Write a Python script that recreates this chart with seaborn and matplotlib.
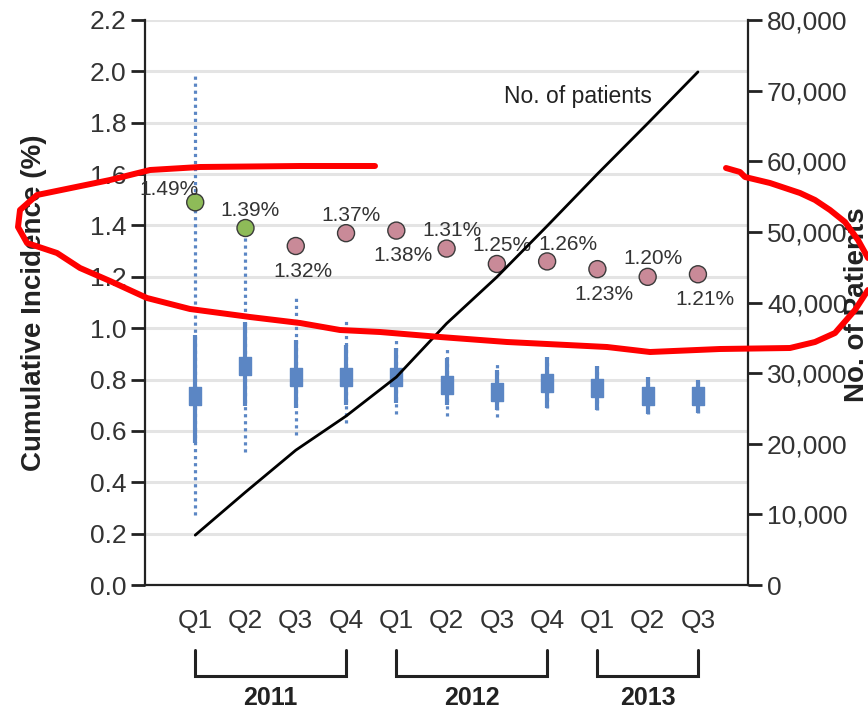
import numpy as np
import pandas as pd
import seaborn as sns
import matplotlib.pyplot as plt
from matplotlib import transforms
from matplotlib.lines import Line2D
from matplotlib.ticker import FuncFormatter

# ---- data ----
quarters = ['Q1', 'Q2', 'Q3', 'Q4', 'Q1', 'Q2', 'Q3', 'Q4', 'Q1', 'Q2', 'Q3']
years = ['2011', '2012', '2013']
year_first = [0, 4, 8]
year_last = [3, 7, 10]

incidence = [1.49, 1.39, 1.32, 1.37, 1.38, 1.31, 1.25, 1.26, 1.23, 1.20, 1.21]
dot_group = ['early', 'early'] + ['late'] * 9
label_side = ['left', 'above', 'below', 'above', 'below', 'above',
              'above', 'above-right', 'below', 'above', 'below']

box_mid = [0.735, 0.852, 0.809, 0.809, 0.810, 0.778, 0.751, 0.786, 0.766, 0.735, 0.735]
box_lo = [0.553, 0.697, 0.689, 0.700, 0.708, 0.700, 0.681, 0.689, 0.681, 0.665, 0.669]
box_hi = [0.973, 1.023, 0.953, 0.934, 0.922, 0.883, 0.837, 0.887, 0.852, 0.810, 0.800]
dot_lo = [0.272, 0.518, 0.584, 0.630, 0.665, 0.660, 0.654, 0.689, 0.681, 0.665, 0.669]
dot_hi = [1.985, 1.360, 1.128, 1.035, 0.953, 0.918, 0.868, 0.887, 0.852, 0.810, 0.800]

patients = [7080, 13170, 19100, 23930, 29450, 37030, 43610, 50830, 58190, 65350, 72640]

# hand-drawn red markup on top of the chart (figure pixels)
scribble_loop = [(375, 166), (300, 166), (200, 167), (150, 170), (110, 180), (37, 195),
                 (20, 210), (18, 227), (27, 243), (57, 253), (80, 268), (110, 281),
                 (147, 298), (190, 309), (250, 317), (300, 323), (340, 330),
                 (380, 332), (440, 337), (507, 342), (607, 347), (650, 352), (720, 349),
                 (790, 348), (815, 342), (835, 333), (855, 310), (868, 290)]
scribble_arc = [(726, 168), (740, 172), (745, 177), (770, 183), (800, 193), (815, 200),
                (830, 210), (845, 222), (858, 240), (868, 258)]

df = pd.DataFrame({'x': range(len(quarters)), 'inc': incidence, 'group': dot_group,
                   'patients': patients})

blue = '#5b86c4'
sans = ['Liberation Sans', 'DejaVu Sans']

sns.set_style('white')
plt.rcParams['font.family'] = sans

fig, ax = plt.subplots(figsize=(8.68, 7.11), dpi=100)
fig.subplots_adjust(left=0.167, right=0.862, top=0.972, bottom=0.177)

# grid
ax.set_axisbelow(True)
ax.yaxis.grid(True, color='#e4e4e4', lw=2.2)

# CI bars: dotted outer, solid inner, rectangle marker
ax.vlines(df['x'], dot_lo, dot_hi, colors=blue, lw=2.3, linestyles=(0, (1, 1.2)), zorder=2)
ax.vlines(df['x'], box_lo, box_hi, colors=blue, lw=3, zorder=3)
rect = [(-0.7, -1), (0.7, -1), (0.7, 1), (-0.7, 1), (-0.7, -1)]
ax.plot(df['x'], box_mid, ls='none', marker=rect, ms=12.5, color=blue, zorder=4)

# incidence dots
sns.scatterplot(data=df, x='x', y='inc', hue='group', ax=ax,
                palette={'early': '#8ebb58', 'late': '#c98a98'},
                s=150, edgecolor='#3a3a3a', linewidth=1, legend=False, zorder=5)

offsets = {'left': (-26, 13), 'above': (5, 18), 'below': (7, -25), 'above-right': (21, 17)}
for i, v in enumerate(incidence):
    ax.annotate(f'{v:.2f}%', (i, v), xytext=offsets[label_side[i]], textcoords='offset pixels',
                ha='center', va='center', fontsize=15, color='#333333', zorder=6)

ax.set_xlim(-1, 11)
ax.set_ylim(0, 2.2)
ax.set_yticks(np.arange(0, 2.21, 0.2))
ax.yaxis.set_major_formatter(FuncFormatter(lambda v, p: f'{v:.1f}'))
ax.set_xticks(df['x'])
ax.set_xticklabels(quarters)
ax.set_xlabel('')
ax.tick_params(axis='both', direction='out', length=10, width=2, color='#222222',
               labelcolor='#333333', labelsize=19)
ax.tick_params(axis='x', pad=7, labelsize=19)
for s in ['top', 'right']:
    ax.spines[s].set_visible(False)
for s in ['left', 'bottom']:
    ax.spines[s].set_linewidth(1.6)
    ax.spines[s].set_color('#222222')

ax.set_ylabel('Cumulative Incidence (%)', fontsize=20, fontweight='bold', color='#222222')
ax.yaxis.set_label_coords(-0.163, 0.5)

# patients line on the right axis
ax2 = ax.twinx()
sns.lineplot(data=df, x='x', y='patients', ax=ax2, color='black', lw=2)
ax2.set_ylim(0, 80000)
ax2.set_yticks(np.arange(0, 80001, 10000))
ax2.yaxis.set_major_formatter(FuncFormatter(lambda v, p: f'{int(v):,}'))
ax2.tick_params(axis='y', direction='out', length=10, width=2, color='#222222',
                labelcolor='#333333', labelsize=19)
for s in ['top', 'left', 'bottom']:
    ax2.spines[s].set_visible(False)
ax2.spines['right'].set_linewidth(1.6)
ax2.spines['right'].set_color('#222222')
ax2.set_ylabel('No. of Patients', fontsize=20, fontweight='bold', color='#222222')
ax2.yaxis.set_label_coords(1.158, 0.497)
ax2.set_xlim(-1, 11)

ax.text(0.718, 0.865, 'No. of patients', transform=ax.transAxes, ha='center', va='center',
        fontsize=16.5, color='#222222')

# year brackets under the quarter labels
trans = transforms.blended_transform_factory(ax.transData, ax.transAxes)
for yr, a, b in zip(years, year_first, year_last):
    ax.plot([a, a, b, b], [-0.115, -0.161, -0.161, -0.115], transform=trans,
            clip_on=False, color='#222222', lw=2.2, solid_joinstyle='miter')
    ax.text((a + b) / 2, -0.199, yr, transform=trans, ha='center', va='center',
            fontsize=18, fontweight='bold', color='#222222')

# red markup
W, H = 868, 711
for pts in [scribble_loop, scribble_arc]:
    xs = [p[0] / W for p in pts]
    ys = [1 - p[1] / H for p in pts]
    fig.add_artist(Line2D(xs, ys, transform=fig.transFigure, color='#ff0000', lw=4.3,
                          solid_capstyle='round', solid_joinstyle='round', zorder=10))

fig.savefig('out.png', dpi=100)
